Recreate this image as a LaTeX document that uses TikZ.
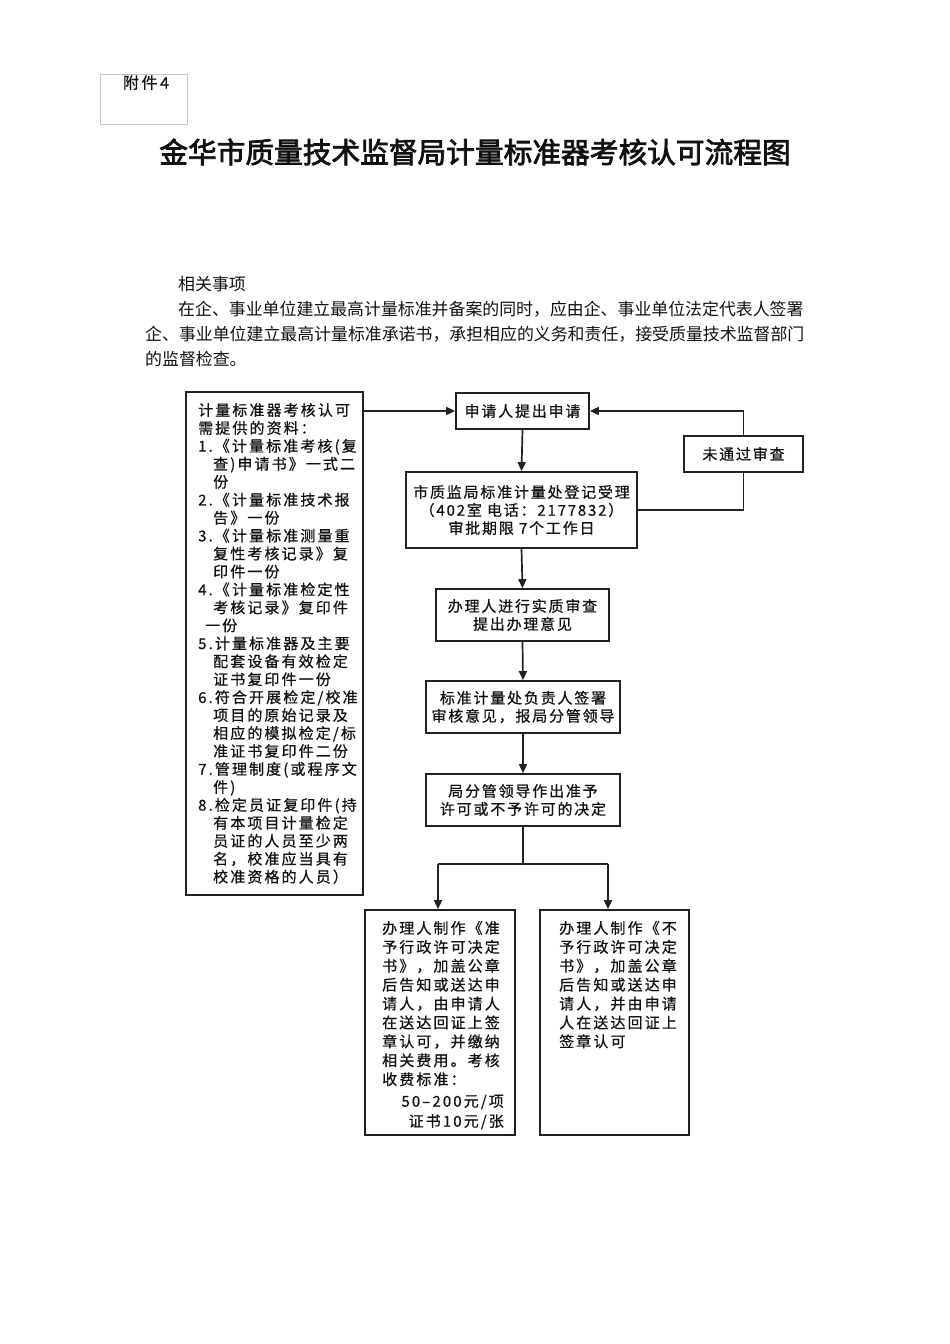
\documentclass[tikz,border=0pt]{standalone}
\usepackage{fontspec}
\setmainfont{Noto Sans CJK SC}
\newfontfamily\cjkbox[LetterSpace=12,FakeBold=0.6]{Noto Sans CJK SC}
\newfontfamily\cjkwide[LetterSpace=14,FakeBold=0.6]{Noto Sans CJK SC}
\newfontfamily\cjkfj[LetterSpace=16,FakeBold=0.4]{Noto Sans CJK SC}
\newfontfamily\cjktitle[FakeBold=2.6]{Noto Sans CJK SC}
\usetikzlibrary{arrows.meta}
\definecolor{lc}{HTML}{222222}
\definecolor{tc}{HTML}{111111}
\newcommand\boxfont{\cjkbox\fontsize{15}{18}\selectfont}
\newcommand\widefont{\cjkwide\fontsize{15}{18}\selectfont}
\newcommand\parafont{\fontsize{16.9}{20}\selectfont}
\tikzset{
  ln/.style={line width=1.7pt, draw=lc},
  arr/.style={ln, -{Triangle[length=9pt,width=8pt]}},
  bx/.style={draw=lc, line width=1.7pt, inner sep=0pt, align=center, font=\boxfont, text=tc},
  tl/.style={inner sep=0pt, anchor=west, text height=0.83em, text depth=0.09em, text=tc},
}
\begin{document}
\begin{tikzpicture}[x=1pt,y=-1pt]
\useasboundingbox[fill=white] (0,0) rectangle (950,1344);

% attachment label
\node[draw=gray!45, line width=0.8pt, minimum width=87pt, minimum height=50pt, inner sep=0pt] (fjbox) at (143.5,99) {};
\node[tl, anchor=center, font=\cjkfj\fontsize{16}{18}\selectfont] (fj) at (146,85) {附件4};

% title
\node[inner sep=0pt, text=tc] (title) at (475,152) {\cjktitle\fontsize{28.7}{32}\selectfont 金华市质量技术监督局计量标准器考核认可流程图};

% paragraph
\node[tl, font=\parafont] (p0) at (178,287) {相关事项};
\node[tl, font=\parafont] (p1) at (178,312) {在企、事业单位建立最高计量标准并备案的同时，应由企、事业单位法定代表人签署};
\node[tl, font=\parafont] (p2) at (145,337) {企、事业单位建立最高计量标准承诺书，承担相应的义务和责任，接受质量技术监督部门};
\node[tl, font=\parafont] (p3) at (145,362) {的监督检查。};

% flow boxes
\node[bx, minimum width=133pt, minimum height=36pt] (A) at (522.5,411) {申请人提出申请};
\node[bx, minimum width=231pt, minimum height=76pt] (B) at (521.5,510) {市质监局标准计量处登记受理\\（402室 电话：2177832）\\审批期限 7个工作日};
\node[bx, minimum width=119pt, minimum height=36pt] (R) at (743.5,454) {未通过审查};
\node[bx, minimum width=173pt, minimum height=52pt] (C) at (522.5,615) {办理人进行实质审查\\提出办理意见};
\node[bx, minimum width=194pt, minimum height=52pt] (D) at (523,707) {标准计量处负责人签署\\审核意见，报局分管领导};
\node[bx, minimum width=194pt, minimum height=52pt] (E) at (523,800) {局分管领导作出准予\\许可或不予许可的决定};
\node[bx, minimum width=150pt, minimum height=225pt] (B1) at (440,1022.5) {};
\node[bx, minimum width=149pt, minimum height=225pt] (B2) at (614.5,1022.5) {};
\node[bx, minimum width=177pt, minimum height=503pt] (L) at (274.5,643.5) {};

% left box text
\foreach \t [count=\i from 0] in {
  计量标准器考核认可,
  需提供的资料：,
  1.《计量标准考核(复,
  \hspace*{15pt}查)申请书》一式二,
  \hspace*{15pt}份,
  2.《计量标准技术报,
  \hspace*{15pt}告》一份,
  3.《计量标准测量重,
  \hspace*{15pt}复性考核记录》复,
  \hspace*{15pt}印件一份,
  4.《计量标准检定性,
  \hspace*{15pt}考核记录》复印件,
  \hspace*{7pt}一份,
  5.计量标准器及主要,
  \hspace*{15pt}配套设备有效检定,
  \hspace*{15pt}证书复印件一份,
  6.符合开展检定/校准,
  \hspace*{15pt}项目的原始记录及,
  \hspace*{15pt}相应的模拟检定/标,
  \hspace*{15pt}准证书复印件二份,
  7.管理制度(或程序文,
  \hspace*{15pt}件),
  8.检定员证复印件(持,
  \hspace*{15pt}有本项目计量检定,
  \hspace*{15pt}员证的人员至少两,
  \hspace*{15pt}名，校准应当具有,
  \hspace*{15pt}校准资格的人员）}
  \node[tl, font=\widefont] (Lt\i) at (198,412+17.95*\i) {\t};

% bottom left text
\foreach \t [count=\i from 0] in {
  办理人制作《准, 予行政许可决定, 书》，加盖公章, 后告知或送达申,
  请人，由申请人, 在送达回证上签, 章认可，并缴纳, 相关费用。考核, 收费标准：}
  \node[tl, font=\widefont] (Pt\i) at (382,930+18.9*\i) {\t};
\node[tl, anchor=east, font=\widefont] (Pf1) at (504,1103) {50–200元/项};
\node[tl, anchor=east, font=\widefont] (Pf2) at (504,1123) {证书10元/张};

% bottom right text
\foreach \t [count=\i from 0] in {
  办理人制作《不, 予行政许可决定, 书》，加盖公章, 后告知或送达申,
  请人，并由申请, 人在送达回证上, 签章认可}
  \node[tl, font=\widefont] (Nt\i) at (559,930+18.9*\i) {\t};

% connectors
\draw[arr] (L.east |- A.west) -- (A.west);
\draw[arr] (A.south) -- (B.north);
\coordinate (rb) at (R.south |- B.east);
\draw[ln] (B.east) -- (rb) -- (R.south);
\coordinate (rt) at (R.north |- A.east);
\draw[arr] (R.north) -- (rt) -- (A.east);
\draw[arr] (B.south) -- (C.north);
\draw[arr] (C.south) -- (D.north);
\draw[arr] (D.south) -- (E.north);
\coordinate (sp) at (523,864);
\coordinate (sl) at (438,864);
\coordinate (sr) at (608,864);
\draw[ln] (E.south) -- (sp);
\draw[ln] (sl) -- (sr);
\draw[arr] (sl) -- (sl |- B1.north);
\draw[arr] (sr) -- (sr |- B2.north);
\end{tikzpicture}
\end{document}
